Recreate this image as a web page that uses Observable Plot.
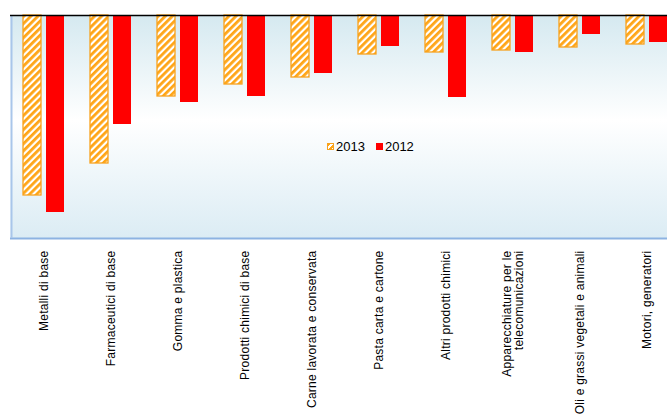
<!DOCTYPE html>
<html>
<head>
<meta charset="utf-8">
<script src="https://cdn.jsdelivr.net/npm/d3@7"></script>
<script src="https://cdn.jsdelivr.net/npm/@observablehq/plot@0.6"></script>
<style>
  html, body { margin: 0; padding: 0; background: #ffffff; }
  #chart { position: relative; width: 667px; height: 418px; overflow: hidden; }
  #legend { position: absolute; left: 327px; top: 139px; font: 13px "Liberation Sans", Arial, sans-serif; color: #000; display: flex; align-items: center; white-space: nowrap; }
  #legend .sw { display: inline-block; width: 7px; height: 7px; margin-right: 2px; box-sizing: border-box; }
  #legend .hatch { border: 1px solid #f7a21e; background: repeating-linear-gradient(135deg, #ffa516 0 2px, #ffffff 2px 4px); }
  #legend .red { background: #ff0000; }
  #chart svg g[aria-label="x-axis tick label"] text { letter-spacing: 0.25px; }
</style>
</head>
<body>
<div id="chart"></div>
<script>
const categories = [
  "Metalli di base",
  "Farmaceutici di base",
  "Gomma e plastica",
  "Prodotti chimici di base",
  "Carne lavorata e conservata",
  "Pasta carta e cartone",
  "Altri prodotti chimici",
  "Apparecchiature per le\ntelecomunicazioni",
  "Oli e grassi vegetali e animali",
  "Motori, generatori"
];
const values2013 = [-180, -148, -81, -69, -62, -39, -37, -35, -32, -29];
const values2012 = [-197, -109, -87, -81, -58, -31, -82, -37, -19, -27];
const yDomain = [-223, 0];

const data2013 = categories.map((c, i) => ({category: c, value: values2013[i]}));
const data2012 = categories.map((c, i) => ({category: c, value: values2012[i]}));

const plot = Plot.plot({
  width: 667,
  height: 418,
  marginTop: 15,
  marginBottom: 180,
  marginLeft: 10,
  marginRight: 0,
  style: {fontFamily: "'Liberation Sans', Arial, sans-serif", fontSize: "12px", color: "#000", background: "transparent"},
  x: {domain: categories, range: [9.5, 679.5], padding: 0},
  y: {domain: yDomain, axis: null},
  marks: [
    Plot.frame({fill: "url(#bgGrad)", stroke: null}),
    Plot.barY(data2013, {x: "category", y: "value", dx: -11.5, insetLeft: 24.5, insetRight: 24.5, fill: "url(#hatch)", stroke: "#f7a21e", strokeWidth: 1.3}),
    Plot.barY(data2012, {x: "category", y: "value", dx: 11.5, insetLeft: 24.5, insetRight: 24.5, fill: "#ff0000"}),
    Plot.ruleY([yDomain[0]], {stroke: "#8db3e2", strokeWidth: 2}),
    Plot.ruleX([categories[0]], {dx: -32.5, stroke: "#a9c6ea", strokeWidth: 2}),
    Plot.ruleY([0], {stroke: "#000", strokeWidth: 1.5}),
    Plot.axisX({tickSize: 0, tickPadding: 12, tickRotate: -90, label: null, fontSize: 12})
  ]
});

const svg = d3.select(plot);
const defs = svg.insert("defs", ":first-child");
const g = defs.append("linearGradient").attr("id", "bgGrad").attr("x1", 0).attr("y1", 0).attr("x2", 0).attr("y2", 1);
g.append("stop").attr("offset", "0%").attr("stop-color", "#d5e9f0");
g.append("stop").attr("offset", "47%").attr("stop-color", "#ffffff");
g.append("stop").attr("offset", "100%").attr("stop-color", "#dbecf4");
const p = defs.append("pattern").attr("id", "hatch").attr("patternUnits", "userSpaceOnUse")
  .attr("width", 5).attr("height", 5).attr("patternTransform", "rotate(45)");
p.append("rect").attr("width", 5).attr("height", 5).attr("fill", "#ffffff");
p.append("rect").attr("width", 2.8).attr("height", 5).attr("fill", "#ffa516");

const chart = document.getElementById("chart");
chart.appendChild(plot);
const legend = document.createElement("div");
legend.id = "legend";
legend.innerHTML = '<span class="sw hatch"></span><span>2013</span><span style="display:inline-block;width:11px"></span><span class="sw red"></span><span>2012</span>';
chart.appendChild(legend);
</script>
</body>
</html>
